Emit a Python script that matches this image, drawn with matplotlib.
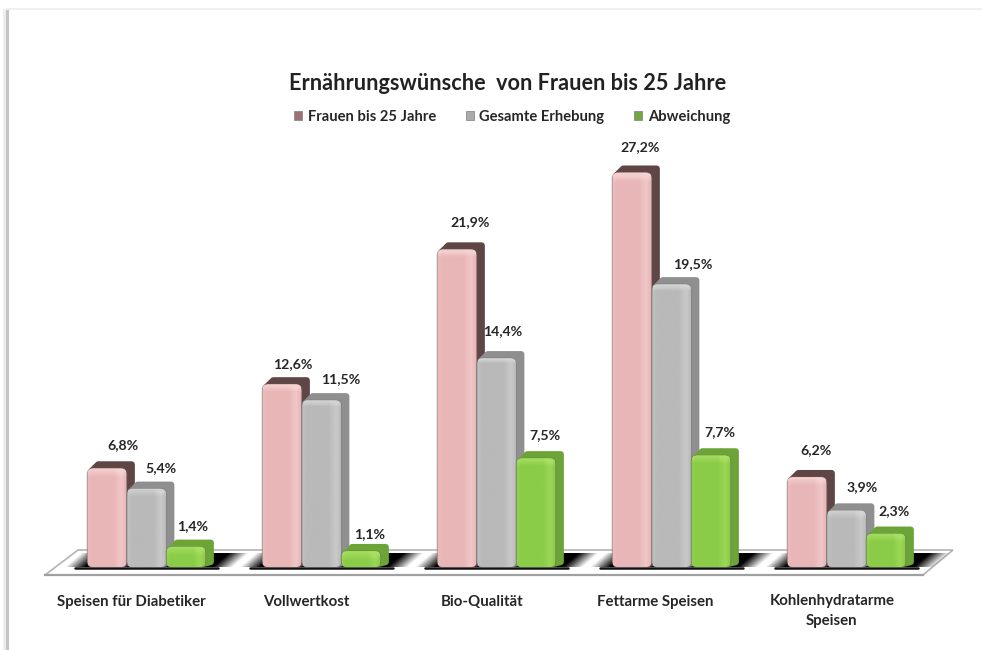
import numpy as np
import matplotlib
matplotlib.use('Agg')
import matplotlib.pyplot as plt
from matplotlib.patches import FancyBboxPatch, Polygon, Patch
from matplotlib.colors import to_rgb
from matplotlib.transforms import IdentityTransform

plt.rcParams['font.family'] = ['Lato', 'DejaVu Sans']

categories = ['Speisen für Diabetiker', 'Vollwertkost', 'Bio-Qualität',
              'Fettarme Speisen', 'Kohlenhydratarme\nSpeisen']
series_names = ['Frauen bis 25 Jahre', 'Gesamte Erhebung', 'Abweichung']
frauen = [6.8, 12.6, 21.9, 27.2, 6.2]
gesamt = [5.4, 11.5, 14.4, 19.5, 3.9]
abweichung = [1.4, 1.1, 7.5, 7.7, 2.3]
series = [frauen, gesamt, abweichung]

# label offsets from the front top centre of each bar, in pixels
label_dx = [[16, 11, 13, 8, 9], [14, 19, 6, 21, 16], [7, 9, 9, 9, 8]]
label_dy = [[23, 20, 27, 26, 27], [21, 21, 27, 20, 23], [21, 17, 23, 23, 23]]

face_colors = ['#E9B6B7', '#B9B9B9', '#8ACB48']
light_colors = ['#F6D2D2', '#D4D4D4', '#A8E060']
depth_colors = ['#5F4645', '#8F8F8F', '#6CA438']
legend_colors = ['#9C7272', '#ABABAB', '#6FA83F']

W, H = 982, 650
GROUP = 175.0   # px between groups
SCALE = 14.5    # px per percent
X0, Y0 = 146.5, 567.0
BAR = 39.5 / GROUP
DX, DY = 8, 7   # depth of the bars

fig = plt.figure(figsize=(W / 100, H / 100), dpi=100)
ax = fig.add_axes([0, 0, 1, 1])
xlim = (-X0 / GROUP, (W - X0) / GROUP)
ylim = (-(H - Y0) / SCALE, Y0 / SCALE)
ax.set_xlim(xlim)
ax.set_ylim(ylim)
ax.axis('off')


def px(x, y):
    # reference pixel (y down) to data coords
    return (x - X0) / GROUP, (Y0 - y) / SCALE


# page frame
ax.plot(*zip(px(6.5, 10), px(6.5, 650)), color='#c4c4c4', lw=2.2, zorder=1)
ax.plot(*zip(px(4, 10), px(4, 650)), color='#ececec', lw=2, zorder=1)
ax.plot(*zip(px(7, 9), px(982, 9)), color='#f0f0f0', lw=1.5, zorder=1)

# floor
floor = Polygon([px(45, 575), px(78, 550), px(953, 550), px(923, 575)],
                closed=True, fc='white', ec='#b4b4b4', lw=1.2, zorder=2)
ax.add_patch(floor)
ax.plot(*zip(px(45, 575), px(923, 575)), color='#a0a0a0', lw=1.6, zorder=2)

# shadows on the floor, fading along the slant of the floor
for g in range(len(categories)):
    gl = X0 + GROUP * (g - 1.5 * BAR)
    gr = X0 + GROUP * (g + 1.5 * BAR)
    xs = np.arange(gl - 30, gr + 55)
    rows = np.arange(15)
    u = xs[None, :] - 1.1 * rows[:, None]
    rise = np.clip((u - (gl - 22)) / 20, 0, 1)
    drop = np.clip(((gr + 28) - u) / 20, 0, 1)
    img = np.zeros((len(rows), len(xs), 4))
    img[..., 3] = rise * drop
    ax.imshow(img, extent=((xs[0] - X0) / GROUP, (xs[-1] - X0) / GROUP, 0, 14 / SCALE),
              origin='lower', aspect='auto', interpolation='bilinear', zorder=3)
    ax.plot([(gl - 12 - X0) / GROUP, (gr + 12 - X0) / GROUP], [-1 / SCALE, -1 / SCALE],
            color='#111111', lw=1.8, zorder=3, solid_capstyle='round')

# bars
z = 4
for i, values in enumerate(series):
    centers = np.arange(len(values)) + (i - 1) * BAR
    for xc, v in zip(centers, values):
        (l, b), (r, t) = ax.transData.transform([(xc - BAR / 2, 0), (xc + BAR / 2, v)])
        depth = Polygon([(l + 4, b + 3), (l + 4, t - 3), (l + DX + 3, t + DY - 3),
                         (r + DX - 3, t + DY - 3), (r + DX - 3, b + DY - 2), (r - 3, b + 3)],
                        closed=True, transform=IdentityTransform(), fc=depth_colors[i],
                        ec=depth_colors[i], lw=4.5, joinstyle='round', zorder=z)
        ax.add_patch(depth)
        z += 1
        face = FancyBboxPatch((l + 4, b + 4), r - l - 8, t - b - 8,
                              boxstyle='round,pad=4,rounding_size=6',
                              transform=IdentityTransform(), fc=face_colors[i],
                              ec='#66666680', lw=0.8, zorder=z)
        ax.add_patch(face)
        z += 1
        # soft highlight across the face and near the top edge
        c0, c1 = np.array(to_rgb(face_colors[i])), np.array(to_rgb(light_colors[i]))
        n = 40
        h = np.zeros(n)
        h[:5] = np.linspace(0.35, 0.0, 5)
        h[28:35] = np.linspace(0.2, 0.9, 7)
        h[35:] = np.linspace(0.9, 0.1, 5)
        m = 60
        top = np.zeros(m)
        frac = min(1.0, 10.0 / max(t - b, 1))
        k = max(2, int(m * frac))
        top[:k] = np.linspace(0.9, 0, k)
        amount = np.clip(h[None, :] * 0.6 + top[:, None], 0, 1)[..., None]
        grad = c0 + (c1 - c0) * amount
        im = ax.imshow(grad, extent=(xc - BAR / 2 + 1 / GROUP, xc + BAR / 2 - 1 / GROUP, 0, v),
                       aspect='auto', interpolation='bilinear', zorder=z)
        im.set_clip_path(face)
        z += 1

ax.set_xlim(xlim)
ax.set_ylim(ylim)

# value labels
for i, values in enumerate(series):
    centers = np.arange(len(values)) + (i - 1) * BAR
    for j, (xc, v) in enumerate(zip(centers, values)):
        ax.annotate(f'{v:.1f}%'.replace('.', ','), (xc, v),
                    xytext=(label_dx[i][j] * 0.72, label_dy[i][j] * 0.72),
                    textcoords='offset points', ha='center', va='center',
                    fontsize=10.2, fontweight='bold', color='#262626', zorder=z + 1)

# category labels
label_y = [602, 602, 602, 602, 611]
label_x = [131, 306, 482, 655, 832]
for name, lx, ly in zip(categories, label_x, label_y):
    x, y = px(lx, ly)
    ax.text(x, y, name, ha='center', va='center', fontsize=10.8, fontweight='bold',
            color='#262626', linespacing=1.5, zorder=z + 1)

# title and legend
x, y = px(507.5, 83)
ax.text(x, y, 'Ernährungswünsche  von Frauen bis 25 Jahre', ha='center', va='center',
        fontsize=15.6, fontweight='bold', color='#222222', zorder=z + 1)

handles = [Patch(fc=f, ec='#8a8a8a', lw=0.6) for f in legend_colors]
leg = ax.legend(handles, series_names, ncol=3, frameon=False,
                loc='center', bbox_to_anchor=px(512, 117),
                bbox_transform=ax.transData,
                prop={'size': 10.6, 'weight': 'bold'},
                handlelength=0.55, handleheight=0.55, handletextpad=0.4, columnspacing=2.0)
for txt in leg.get_texts():
    txt.set_color('#262626')

fig.savefig('out.png', dpi=100, facecolor='white')
